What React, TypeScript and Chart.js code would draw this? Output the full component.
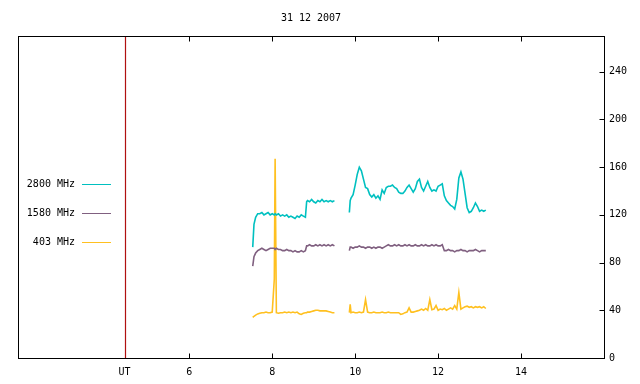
import React, { useEffect, useRef } from 'react';
import { Chart, registerables } from 'chart.js';

Chart.register(...registerables);

const TITLE = '31 12 2007';
const X_TICKS = [6, 8, 10, 12, 14];
const UT_MARK = 4.44;
const UT_LABEL = 'UT';
const Y_TICKS = [0, 40, 80, 120, 160, 200, 240];
const SERIES_NAMES = ['2800 MHz', '1580 MHz', '403 MHz'];
const SERIES_COLORS = ['#00c0c0', '#806080', '#ffc020'];

const TIMES_A = [7.53, 7.56, 7.60, 7.65, 7.70, 7.75, 7.80, 7.85, 7.90, 7.95, 8.00, 8.05, 8.07, 8.10, 8.15, 8.20, 8.25, 8.30, 8.35, 8.40, 8.45, 8.50, 8.55, 8.60, 8.65, 8.70, 8.75, 8.80, 8.83, 8.85, 8.90, 8.95, 9.00, 9.05, 9.10, 9.15, 9.20, 9.25, 9.30, 9.35, 9.40, 9.45, 9.50];
const GAP_TIME = 9.68;
const TIMES_B = [9.86, 9.88, 9.90, 9.95, 10.00, 10.05, 10.10, 10.15, 10.20, 10.25, 10.30, 10.35, 10.40, 10.45, 10.50, 10.55, 10.60, 10.65, 10.70, 10.75, 10.80, 10.85, 10.90, 10.95, 11.00, 11.05, 11.10, 11.15, 11.20, 11.25, 11.30, 11.35, 11.40, 11.45, 11.50, 11.55, 11.60, 11.65, 11.70, 11.75, 11.80, 11.85, 11.90, 11.95, 12.00, 12.05, 12.10, 12.15, 12.20, 12.25, 12.30, 12.35, 12.40, 12.45, 12.50, 12.55, 12.60, 12.65, 12.70, 12.75, 12.80, 12.85, 12.90, 12.95, 13.00, 13.05, 13.10, 13.15];

const F2800_A = [93, 112, 118, 121, 121, 122, 120, 121, 122, 120, 121, 120, 121, 120, 121, 119, 120, 119, 120, 118, 119, 118, 117, 119, 118, 120, 119, 118, 131, 132, 131, 133, 131, 130, 132, 131, 133, 131, 132, 131, 132, 131, 132];
const F2800_B = [122, 132, 134, 137, 145, 154, 160, 157, 150, 143,
  142, 137, 135, 137, 134, 136, 133, 141, 138, 143, 144, 144, 145, 143, 142, 139, 138, 138, 140, 143,
  145, 142, 139, 142, 148, 150, 143, 140, 144, 148, 143, 140, 141, 140, 144, 145, 146, 136, 132, 130,
  128, 127, 125, 133, 151, 156, 150, 138, 126, 122, 123, 126, 130, 127, 123, 124, 123, 124];

const F1580_A = [77, 85, 88, 90, 91, 92, 91, 90, 91, 92, 92, 92, 91, 92, 91, 91, 90, 90, 91, 90, 90, 89, 90, 89, 89, 90, 89, 90, 94, 94, 95, 94, 94, 95, 94, 95, 94, 95, 94, 95, 94, 95, 94];
const F1580_B = [90, 93, 93, 92, 93, 93, 94, 93, 93, 92,
  93, 93, 92, 93, 92, 93, 93, 92, 93, 94, 95, 94, 94, 95, 94, 95, 94, 94, 95, 94,
  95, 94, 94, 95, 94, 94, 95, 94, 95, 94, 94, 95, 94, 95, 94, 94, 95, 90, 90, 91,
  90, 90, 89, 90, 90, 91, 90, 90, 89, 90, 90, 90, 91, 90, 89, 90, 90, 90];

const F403_A = [34, 35, 36, 37, 37.5, 38, 38, 38.5, 38, 38, 38.5, 66, 167, 38, 37.5, 38, 38, 38.5, 38, 38.5, 38, 38.5, 38, 38.5, 37, 36.5, 37.5, 38, 38, 38.5, 38.5, 39, 39.5, 40, 40, 39.5, 39.5, 39.5, 39.5, 39, 38.5, 38, 38];
const F403_B = [38, 45, 38, 38.5, 38, 38, 38.5, 38, 38.5, 49,
  38.5, 38, 38, 38.5, 38, 38, 38, 38.5, 38, 38, 38.5, 38, 38, 38, 38, 38, 36.5, 37, 38, 38.5,
  42, 38.5, 38.5, 39, 39.5, 40, 41, 40, 41.5, 40, 49, 40.5, 41, 44, 40, 41, 40.5, 41.5, 40, 41,
  42, 41, 44, 41, 55, 41, 42, 43, 43.5, 42.5, 43, 42, 43, 42.5, 43, 42, 43, 41.5];

const FONT_FAMILY = '"DejaVu Sans Mono", monospace';

export default function App() {
  const ref = useRef<HTMLCanvasElement>(null);

  useEffect(() => {
    document.body.style.margin = '0';
    const canvas = ref.current;
    if (!canvas) return;
    const times = [...TIMES_A, GAP_TIME, ...TIMES_B];
    const mk = (a: number[], b: number[]) => {
      const v: (number | null)[] = [...a, null, ...b];
      return times.map((t, i) => ({ x: t, y: v[i] }));
    };
    const seriesData = [mk(F2800_A, F2800_B), mk(F1580_A, F1580_B), mk(F403_A, F403_B)];

    const overlay = {
      id: 'overlay',
      beforeDatasetsDraw(chart: any) {
        const { ctx, chartArea: ca, scales } = chart;
        const ux = Math.round(scales.x.getPixelForValue(UT_MARK)) + 0.5;
        ctx.save();
        ctx.strokeStyle = '#b01010';
        ctx.lineWidth = 1.2;
        ctx.beginPath();
        ctx.moveTo(ux, ca.top);
        ctx.lineTo(ux, ca.bottom);
        ctx.stroke();
        ctx.restore();
      },
      afterDatasetsDraw(chart: any) {
        const { ctx, chartArea: ca, scales } = chart;
        const L = Math.round(ca.left) + 0.5;
        const R = Math.round(ca.right) + 0.5;
        const T = Math.round(ca.top) + 0.5;
        const B = Math.round(ca.bottom) + 0.5;
        ctx.save();
        ctx.strokeStyle = '#000';
        ctx.lineWidth = 1;
        ctx.strokeRect(L, T, R - L, B - T);
        ctx.beginPath();
        X_TICKS.forEach((v) => {
          const px = Math.round(scales.x.getPixelForValue(v)) + 0.5;
          ctx.moveTo(px, B);
          ctx.lineTo(px, B - 5);
          ctx.moveTo(px, T);
          ctx.lineTo(px, T + 5);
        });
        Y_TICKS.forEach((v) => {
          const py = Math.round(scales.y.getPixelForValue(v)) + 0.5;
          ctx.moveTo(R, py);
          ctx.lineTo(R - 5, py);
        });
        ctx.stroke();

        ctx.fillStyle = '#000';
        ctx.font = '10px ' + FONT_FAMILY;
        ctx.textAlign = 'center';
        ctx.textBaseline = 'middle';
        ctx.fillText(TITLE, (ca.left + ca.right) / 2, 18);

        ctx.textAlign = 'right';
        SERIES_NAMES.forEach((name, i) => {
          const y = 184 + i * 29;
          ctx.fillStyle = '#000';
          ctx.fillText(name, 75, y);
          ctx.strokeStyle = SERIES_COLORS[i];
          ctx.beginPath();
          ctx.moveTo(82, y + 0.5);
          ctx.lineTo(111, y + 0.5);
          ctx.stroke();
        });
        ctx.restore();
      },
    };

    const chart = new Chart(canvas, {
      type: 'line',
      data: {
        datasets: SERIES_NAMES.map((name, i) => ({
          label: name,
          data: seriesData[i],
          borderColor: SERIES_COLORS[i],
          backgroundColor: SERIES_COLORS[i],
          borderWidth: 1.6,
          pointRadius: 0,
          spanGaps: false,
          tension: 0,
        })),
      },
      options: {
        responsive: false,
        animation: false,
        devicePixelRatio: 1,
        layout: { padding: { left: 18, top: 36, right: 0, bottom: 0 } },
        plugins: {
          legend: { display: false },
          tooltip: { enabled: false },
          title: { display: false },
        },
        scales: {
          x: {
            type: 'linear',
            position: 'bottom',
            min: 1.87,
            max: 16,
            grid: { display: false, drawTicks: false },
            border: { display: false },
            afterBuildTicks: (scale: any) => {
              scale.ticks = [UT_MARK, ...X_TICKS].map((v) => ({ value: v }));
            },
            afterFit: (scale: any) => {
              scale.height = 26;
            },
            ticks: {
              autoSkip: false,
              maxRotation: 0,
              padding: 8,
              color: '#000',
              font: { family: FONT_FAMILY, size: 10 },
              callback: (v: any) => (v === UT_MARK ? UT_LABEL : String(v)),
            },
          },
          y: {
            type: 'linear',
            position: 'right',
            min: 0,
            max: 270,
            grid: { display: false, drawTicks: false },
            border: { display: false },
            afterBuildTicks: (scale: any) => {
              scale.ticks = Y_TICKS.map((v) => ({ value: v }));
            },
            afterFit: (scale: any) => {
              scale.width = 36;
            },
            ticks: {
              padding: 5,
              color: '#000',
              font: { family: FONT_FAMILY, size: 10 },
              callback: (v: any) => String(v),
            },
          },
        },
      },
      plugins: [overlay],
    } as any);

    return () => chart.destroy();
  }, []);

  return <canvas ref={ref} width={640} height={384} style={{ display: 'block' }} />;
}
